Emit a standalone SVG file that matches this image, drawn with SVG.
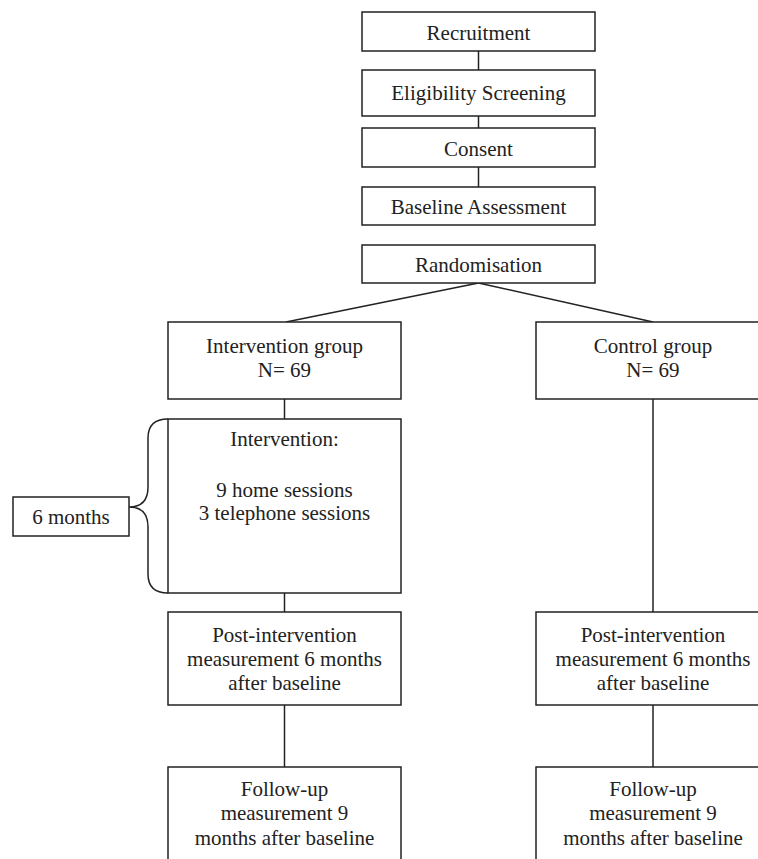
<svg xmlns="http://www.w3.org/2000/svg" width="758" height="859" viewBox="0 0 758 859">
<style>
.box{fill:#fff;stroke:#222;stroke-width:1.5}
.ln{fill:none;stroke:#222;stroke-width:1.5}
text{font-family:"Liberation Serif","Times New Roman",serif;font-size:21px;fill:#222;text-anchor:middle}
</style>
<rect width="758" height="859" fill="#fff"/>
<g id="connectors">
<line class="ln" x1="478.5" y1="51" x2="478.5" y2="70"/>
<line class="ln" x1="478.5" y1="116" x2="478.5" y2="128"/>
<line class="ln" x1="478.5" y1="167" x2="478.5" y2="187"/>
<line class="ln" x1="478.5" y1="283" x2="286" y2="322"/>
<line class="ln" x1="478.5" y1="283" x2="653" y2="322"/>
<line class="ln" x1="284.5" y1="399" x2="284.5" y2="419"/>
<line class="ln" x1="284.5" y1="593" x2="284.5" y2="612"/>
<line class="ln" x1="284.5" y1="705" x2="284.5" y2="767"/>
<line class="ln" x1="653" y1="399" x2="653" y2="612"/>
<line class="ln" x1="653" y1="705" x2="653" y2="767"/>
<path class="ln" d="M168,419 Q148,419 148,438 L148,487 Q148,507 129,507 Q148,507 148,527 L148,574 Q148,593 168,593"/>
</g>
<g id="recruitment"><rect class="box" x="362" y="12" width="233" height="39"/><text x="478.5" y="40">Recruitment</text></g>
<g id="eligibility"><rect class="box" x="362" y="70" width="233" height="46"/><text x="478.5" y="100">Eligibility Screening</text></g>
<g id="consent"><rect class="box" x="362" y="128" width="233" height="39"/><text x="478.5" y="156">Consent</text></g>
<g id="baseline"><rect class="box" x="362" y="187" width="233" height="38"/><text x="478.5" y="214">Baseline Assessment</text></g>
<g id="randomisation"><rect class="box" x="362" y="245" width="233" height="38"/><text x="478.5" y="272">Randomisation</text></g>
<g id="intervention-group"><rect class="box" x="168" y="322" width="233" height="77"/><text x="284.5" y="353">Intervention group</text><text x="284.5" y="377">N= 69</text></g>
<g id="control-group"><rect class="box" x="536" y="322" width="234" height="77"/><text x="653" y="353">Control group</text><text x="653" y="377">N= 69</text></g>
<g id="intervention"><rect class="box" x="168" y="419" width="233" height="174"/><text x="284.5" y="446">Intervention:</text><text x="284.5" y="497">9 home sessions</text><text x="284.5" y="520">3 telephone sessions</text></g>
<g id="six-months"><rect class="box" x="13" y="497" width="116" height="39"/><text x="71" y="524">6 months</text></g>
<g id="post-intervention"><rect class="box" x="168" y="612" width="233" height="93"/><text x="284.5" y="642">Post-intervention</text><text x="284.5" y="666">measurement 6 months</text><text x="284.5" y="690">after baseline</text></g>
<g id="control-post"><rect class="box" x="536" y="612" width="234" height="93"/><text x="653" y="642">Post-intervention</text><text x="653" y="666">measurement 6 months</text><text x="653" y="690">after baseline</text></g>
<g id="followup"><rect class="box" x="168" y="767" width="233" height="110"/><text x="284.5" y="796">Follow-up</text><text x="284.5" y="820">measurement 9</text><text x="284.5" y="845">months after baseline</text></g>
<g id="control-followup"><rect class="box" x="536" y="767" width="234" height="110"/><text x="653" y="796">Follow-up</text><text x="653" y="820">measurement 9</text><text x="653" y="845">months after baseline</text></g>
</svg>
